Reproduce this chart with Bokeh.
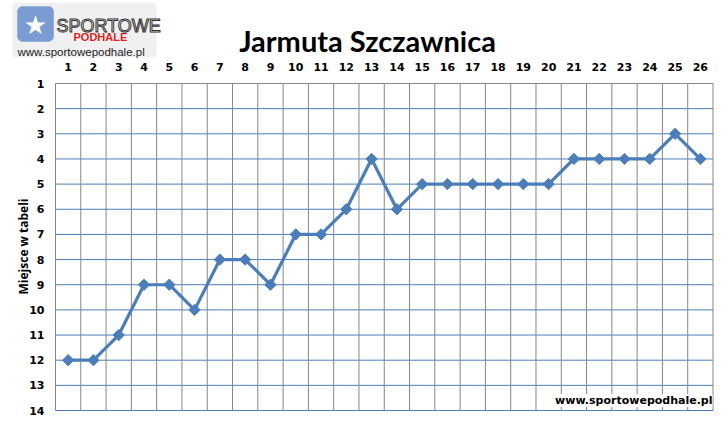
import math
from bokeh.plotting import figure
from bokeh.models import Range1d, Label, BoxAnnotation
from bokeh.core.properties import value
from bokeh.embed import file_html
from bokeh.resources import INLINE

rounds = list(range(1, 27))
places = [12, 12, 11, 9, 9, 10, 8, 8, 9, 7, 7, 6, 4, 6, 5, 5, 5, 5, 5, 5, 4, 4, 4, 4, 3, 4]
y_ticks = list(range(1, 15))
x_labels = [str(r) for r in rounds]
y_labels = [str(t) for t in y_ticks]
title_text = "Jarmuta Szczawnica"
y_label = "Miejsce w tabeli"
site = "www.sportowepodhale.pl"

W, H = 725, 422
# plot area (pixels) inside the canvas
FL, FR, FT, FB = 55, 712.5, 83, 410
x_lo, x_hi = rounds[0] - 0.5, rounds[-1] + 0.5
y_top, y_bot = y_ticks[0], y_ticks[-1]
sx = (FR - FL) / (x_hi - x_lo)
sy = (FB - FT) / (y_bot - y_top)
x_range = Range1d(x_lo - FL / sx, x_hi + (W - FR) / sx)
y_range = Range1d(y_bot + (H - FB) / sy, y_top - FT / sy)

p = figure(width=W, height=H, output_backend="svg", toolbar_location=None,
           x_range=x_range, y_range=y_range, min_border=0)
p.axis.visible = False
p.grid.visible = False
p.outline_line_color = None
p.background_fill_color = "white"
p.border_fill_color = "white"

# horizontal grid lines (blue) and top border (gray)
h_lines = y_ticks[1:]
p.segment(x0=[x_lo] * len(h_lines), y0=h_lines, x1=[x_hi] * len(h_lines), y1=h_lines,
          line_color="#4A7EBB", line_width=1)
# vertical grid lines (gray)
v_lines = [r - 0.5 for r in rounds] + [rounds[-1] + 0.5]
p.segment(x0=v_lines, y0=[y_top] * len(v_lines), x1=v_lines, y1=[y_bot] * len(v_lines),
          line_color="#868686", line_width=1)
p.segment(x0=[x_lo], y0=[y_top], x1=[x_hi], y1=[y_top], line_color="#868686", line_width=1)

# series
p.line(rounds, places, line_color="#4A7EBB", line_width=3.2)
p.scatter(rounds, places, marker="square", angle=math.pi / 4, size=8,
          fill_color="#4A7EBB", line_color="#4A7EBB")

# tick labels
p.text(x=rounds, y=[y_top] * len(rounds), text=x_labels, y_offset=-17,
       text_font=value("DejaVu Sans"), text_font_style="bold", text_font_size="11px",
       text_align="center", text_baseline="middle", text_color="black")
p.text(x=[x_lo] * len(y_ticks), y=y_ticks, text=y_labels, x_offset=-11,
       text_font=value("DejaVu Sans"), text_font_style="bold", text_font_size="11px",
       text_align="right", text_baseline="middle", text_color="black")

def lab(x, y, text, **kw):
    p.add_layout(Label(x=x, y=y, x_units="canvas", y_units="canvas", text=text, **kw))

# y-axis title
lab(23, 246, y_label, angle=math.pi / 2, text_font="Open Sans", text_font_style="bold",
    text_font_size="12px", text_align="center", text_baseline="alphabetic",
    text_color="black")

# title
lab(367, 40, title_text, text_font="Lato", text_font_style="bold", text_font_size="29px",
    text_align="center", text_baseline="alphabetic", text_color="black")

# watermark
lab(712, 400, site, text_font="DejaVu Sans", text_font_style="bold", text_font_size="11px",
    text_align="right", text_baseline="middle", text_color="black",
    background_fill_color="white")

# logo
p.add_layout(BoxAnnotation(left=12, right=156, top=2, bottom=57,
                           left_units="canvas", right_units="canvas",
                           top_units="canvas", bottom_units="canvas",
                           fill_color="#F0F0F0", fill_alpha=1, line_color=None,
                           border_radius=4))
p.add_layout(BoxAnnotation(left=17, right=53, top=6, bottom=41,
                           left_units="canvas", right_units="canvas",
                           top_units="canvas", bottom_units="canvas",
                           fill_color="#7B9BD3", fill_alpha=1, line_color="#5A7AB5",
                           border_radius=5))
lab(35, 24, "\u2605", text_font="DejaVu Sans", text_font_size="26px",
    text_align="center", text_baseline="middle", text_color="white")
lab(56, 25, "SPORTOWE", text_font="Liberation Sans", text_font_size="18px",
    text_baseline="alphabetic", text_color="white", text_outline_color="#333333")
lab(73, 36, "PODHALE", text_font="Liberation Sans", text_font_style="bold",
    text_font_size="11px", text_baseline="alphabetic", text_color="#E01E1E")
lab(17, 51, site, text_font="Liberation Sans", text_font_size="11.5px",
    text_baseline="alphabetic", text_color="#222222")

open("out.html", "w").write(file_html(p, INLINE))
